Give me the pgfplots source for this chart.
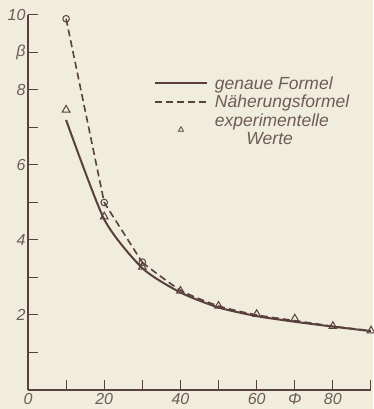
\documentclass[border=0pt]{standalone}
\usepackage{fontspec}
\setmainfont{Liberation Sans}
\usepackage{pgfplots}
\pgfplotsset{compat=1.18}
\definecolor{paper}{HTML}{F1EDDD}
\definecolor{ink}{HTML}{5A403D}
\definecolor{txt}{HTML}{6E5C56}
\begin{document}
\begin{tikzpicture}[x=1pt,y=1pt]
\fill[paper] (0,0) rectangle (373,409);
\useasboundingbox (0,0) rectangle (373,409);
\begin{axis}[
  at={(28pt,19pt)}, anchor=south west,
  scale only axis, width=343pt, height=375pt,
  xmin=0, xmax=90, ymin=0, ymax=10,
  axis lines=left, axis line style={ink, line width=2pt, -},
  tick align=inside, major tick length=10pt,
  tick style={ink, line width=1pt},
  xtick={0,10,...,90}, xticklabels={0,,20,,40,,60,Φ,80,},
  ytick={1,...,10}, yticklabels={,2,,4,,6,,8,β,10},
  tick label style={font=\itshape\fontsize{16}{16}\selectfont, text=txt},
  yticklabel style={xshift=1pt},
  legend style={draw=none, fill=none, at={(0.358,0.845)}, anchor=north west,
    font=\itshape\fontsize{17.5}{18}\selectfont, text=txt,
    nodes={align=left, inner sep=1pt}, row sep=2.5pt},
  legend cell align=left,
  legend image code/.code={\draw[#1] (0pt,0pt) -- (52pt,0pt); \path (58pt,0pt);},
]
\addplot[ink, line width=2pt, smooth, tension=0.4] coordinates {
 (10,7.2) (20,4.55) (30,3.25) (40,2.6) (50,2.2) (60,1.97) (70,1.82) (80,1.69) (90,1.57)};
\addlegendentry{genaue Formel}
\addplot[ink, line width=1.6pt, dash pattern=on 7pt off 4pt] coordinates {
 (10,9.9) (20,5.0) (30,3.4)};
\addlegendentry{Näherungsformel}
\addplot[ink, line width=1.6pt, dash pattern=on 7pt off 4pt, smooth, tension=0.4, forget plot] coordinates {
 (30,3.4) (40,2.66) (50,2.24) (60,2.0) (70,1.85) (80,1.7) (90,1.58)};
\addplot[only marks, mark=triangle, mark size=4.5pt, mark options={ink, fill=paper, line width=1pt},
  legend image code/.code={\draw[mark size=3pt, mark options={ink, line width=0.8pt}] plot[mark=triangle] coordinates {(26pt,0pt)}; \path (0pt,0pt) (58pt,0pt);}] coordinates {
 (10,7.47) (20,4.62) (30,3.28) (40,2.64) (50,2.24) (60,2.02) (70,1.9) (80,1.7) (90,1.58)};
\addlegendentry{experimentelle\\\hspace*{1.8em}Werte}
\addplot[only marks, mark=o, mark size=3.3pt, mark options={ink, fill=paper, line width=1pt}, forget plot] coordinates {
 (10,9.9) (20,5.0) (30,3.41)};
\end{axis}
\end{tikzpicture}
\end{document}
